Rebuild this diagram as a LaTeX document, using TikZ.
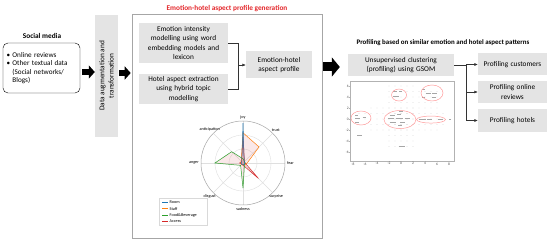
\documentclass[tikz,border=0pt]{standalone}
\usepackage{fontspec}
\setmainfont{Carlito}
\usetikzlibrary{arrows.meta, positioning, shadows}
\definecolor{boxgray}{HTML}{E4E4E4}
\definecolor{titlered}{HTML}{E3262A}
\definecolor{roomcol}{HTML}{1F77B4}
\definecolor{staffcol}{HTML}{FF7F0E}
\definecolor{foodcol}{HTML}{2CA02C}
\definecolor{accesscol}{HTML}{D62728}
\newcommand{\boxfont}{\fontsize{7.3}{9.2}\selectfont}
\newcommand{\listfont}{\fontsize{7.2}{8.4}\selectfont}
\tikzset{
  graybox/.style={fill=boxgray, align=center, inner sep=2pt, font=\boxfont},
  titletext/.style={font=\bfseries\fontsize{7.3}{9}\selectfont, inner sep=1pt},
  blockarrow/.style={line width=6pt, -{Triangle[length=6pt, width=13pt]}},
  bigarrow/.style={line width=9pt, -{Triangle[length=8pt, width=19pt]}},
  joinline/.style={draw=black!80, line width=.5pt},
  radarfill/.style={fill=accesscol, fill opacity=.1, line width=.5pt},
  tinylabel/.style={font=\fontsize{4.2}{5}\selectfont, inner sep=.5pt},
  ticklabel/.style={font=\fontsize{3.6}{4}\selectfont, inner sep=.5pt, text=black!70},
}

\begin{document}
\begin{tikzpicture}[x=1pt, y=-1pt]
\useasboundingbox (0,0) rectangle (550,243);

% input side
\node[titletext] (socialtitle) at (42,36) {Social media};
\node[draw, rounded corners=5pt, minimum width=77pt, minimum height=50pt, text width=70pt, align=left, font=\listfont] (socialbox) at (41.5,68)
  {\textbullet\ Online reviews\\\textbullet\ Other textual data\\\phantom{\textbullet\ }(Social networks/\\\phantom{\textbullet\ }Blogs)};
\node[graybox, rotate=90, minimum width=122pt, minimum height=23pt] (augbox) at (106.5,76) {Data augmentation and\\transformation};

% profile generation
\node[draw=gray!70, line width=.6pt, fill=white, drop shadow={shadow xshift=1pt, shadow yshift=-1pt, opacity=.35}, minimum width=190pt, minimum height=224pt] (genframe) at (227,126) {};
\node[titletext, text=titlered, above=1pt of genframe] (gentitle) {Emotion-hotel aspect profile generation};
\node[graybox, minimum width=89pt, minimum height=40pt, text width=80pt] (intensitybox) at (183.5,43) {Emotion intensity\\modelling using word\\embedding models and\\lexicon};
\node[graybox, minimum width=89pt, minimum height=30pt, text width=80pt] (aspectbox) at (183.5,89) {Hotel aspect extraction\\using hybrid topic\\modelling};
\node[graybox, minimum width=66pt, minimum height=27pt, text width=60pt] (profilebox) at (279,65) {Emotion-hotel\\aspect profile};
\draw[joinline] (intensitybox.east) -- ++(10,0) coordinate (joinx) |- (aspectbox.east);
\draw[joinline, -{Latex[length=3.5pt, width=3pt]}] (joinx |- profilebox.west) -- (profilebox.west);

% radar chart
\def\radarvals{{
    {.62,.05,.05,.52,.05,.05,.08,.05},
    {.72,.54,.1,.06,.05,.05,.05,.06},
    {.1,.05,.05,.05,.6,.08,.67,.38},
    {.95,.04,.04,.04,.04,.04,.04,.04}}}
\def\radarcols{{"accesscol","staffcol","foodcol","roomcol"}}
\begin{scope}[shift={(243,163)}]
  \foreach \rr in {14,28} \draw[gray!25, line width=.4pt] (0,0) circle (\rr pt);
  \foreach \i in {0,...,7} \draw[gray!25, line width=.4pt] (0,0) -- (-90+45*\i:42);
  \draw[gray!70, line width=.5pt] (0,0) circle (42pt);
  \foreach \lbl [count=\i from 0] in {joy,trust,fear,surprise,sadness,disgust,anger,anticipation} {
    \pgfmathtruncatemacro{\anc}{mod(630-45*\i,360)}
    \node[tinylabel, anchor=\anc] (axis\i) at (-90+45*\i:43.5) {\lbl};
  }
  \foreach \s in {0,...,3} {
    \foreach \i in {0,...,7} {
      \pgfmathsetmacro{\rv}{\radarvals[\s][\i]*42}
      \coordinate (p\s-\i) at (-90+45*\i:\rv);
    }
    \pgfmathsetmacro{\seriescol}{\radarcols[\s]}
    \draw[radarfill, draw=\seriescol]
      (p\s-0) -- (p\s-1) -- (p\s-2) -- (p\s-3) -- (p\s-4) -- (p\s-5) -- (p\s-6) -- (p\s-7) -- cycle;
  }
\end{scope}
\draw[gray!30, fill=white, line width=.4pt] (159,198) rectangle (207,225);
\foreach \lbl/\col [count=\i from 0] in {Room/roomcol, Staff/staffcol, Food\&Beverage/foodcol, Access/accesscol} {
  \draw[\col, line width=.6pt] (162,202.5+6.3*\i) -- (168,202.5+6.3*\i);
  \node[tinylabel, anchor=west] (leg\i) at (169,202.5+6.3*\i) {\lbl};
}

% profiling side
\node[titletext, font=\bfseries\fontsize{6.9}{8}\selectfont] (proftitle) at (443,43) {Profiling based on similar emotion and hotel aspect patterns};
\node[graybox, minimum width=106pt, minimum height=22pt, text width=100pt] (gsombox) at (401,65) {Unsupervised clustering\\(profiling) using GSOM};
\node[graybox, minimum width=69pt, minimum height=22pt, text width=64pt] (custbox) at (512.5,64.5) {Profiling customers};
\node[graybox, minimum width=69pt, minimum height=22pt, text width=64pt] (reviewbox) at (512.5,92) {Profiling online\\reviews};
\node[graybox, minimum width=69pt, minimum height=23pt, text width=64pt] (hotelbox) at (512.5,120.5) {Profiling hotels};
\draw[joinline] (gsombox.east) -- ++(12,0) coordinate (splitx);
\foreach \target in {custbox, reviewbox, hotelbox}
  \draw[joinline, -{Latex[length=3.5pt, width=3pt]}] (splitx) |- (\target.west);

% gsom map
\begin{scope}[shift={(401,119)}, x=6pt, y=5.5pt]
  \foreach \x in {-7,...,7} \foreach \y in {-1,0,1} \fill[gray!45] (\x,\y) circle (.35pt);
  \foreach \x in {-2,...,2} \foreach \y in {-5,...,6} \fill[gray!45] (\x,\y) circle (.35pt);
  \foreach \x in {-5,...,6} \foreach \y in {-2,2} \fill[gray!45] (\x,\y) circle (.35pt);
  \foreach \x in {3,...,6} \foreach \y in {3,4,5} \fill[gray!45] (\x,\y) circle (.35pt);
  \foreach \x/\y/\w in {-7.6/0.7/3pt, -7.6/0.1/5pt, -7.6/-0.5/4pt, -6.4/0.4/3pt,
      -1.9/0.7/5pt, -0.6/0.9/4pt, -2.2/0.1/6pt, -0.9/0.1/7pt, 0.6/0.1/5pt, -1.9/-0.5/6pt,
      -0.2/-0.6/5pt, -0.5/-1.2/4pt, -0.3/1.5/4pt,
      -1.3/5/4pt, -0.3/5/3pt, -1.3/4.1/6pt, 3.5/5.4/3pt, 4.1/4.7/5pt, 5.2/4.7/5pt,
      3.5/3.9/3pt, 5.2/3.9/4pt,
      3.0/-0.1/7pt, 4.4/-0.1/5pt, 6.1/-0.1/5pt, -7.3/-3/5pt, -0.4/-5/6pt, 8.0/-0.1/2pt} {
    \draw[black!35, line width=.3pt] (\x,\y) -- ++(\w,0);
  }
  \draw[red!40, line width=.5pt] (-6.67,0.18) ellipse [x radius=10pt, y radius=7pt];
  \draw[red!40, line width=.5pt] (-0.17,-0.1) ellipse [x radius=16pt, y radius=9pt];
  \draw[red!40, line width=.5pt] (-0.33,4.36) ellipse [x radius=7.5pt, y radius=6pt];
  \draw[red!40, line width=.5pt] (5.17,4.73) ellipse [x radius=11pt, y radius=8pt];
  \draw[red!40, line width=.5pt] (5,-0.1) ellipse [x radius=14.5pt, y radius=3.5pt];
  \draw[gray!60, line width=.4pt] (-8.5,-7.6) rectangle (8.83,6.9);
  \foreach \v [count=\i] in {-8,-6,...,8} {
    \draw[gray!60, line width=.3pt] (\v,-7.6) -- ++(0,-0.25);
    \node[ticklabel, below] (xtick\i) at (\v,-7.8) {\v};
  }
  \foreach \v [count=\i] in {-6,-4,...,6} {
    \draw[gray!60, line width=.3pt] (-8.5,\v) -- ++(-0.15,0);
    \node[ticklabel, left] (ytick\i) at (-8.6,\v) {\v};
  }
\end{scope}

% block arrows
\draw[blockarrow, shorten <=2pt] ([yshift=-4pt]socialbox.east) -- ([yshift=-4pt]socialbox.east -| augbox.north);
\draw[blockarrow, shorten <=1pt, shorten >=1pt] ([yshift=3pt]augbox.south) -- ([yshift=3pt]augbox.south -| genframe.west);
\draw[bigarrow, shorten <=1pt, shorten >=8pt] ([yshift=-2pt]genframe.east |- gsombox.west) -- ([yshift=-2pt]gsombox.west);
\end{tikzpicture}
\end{document}
